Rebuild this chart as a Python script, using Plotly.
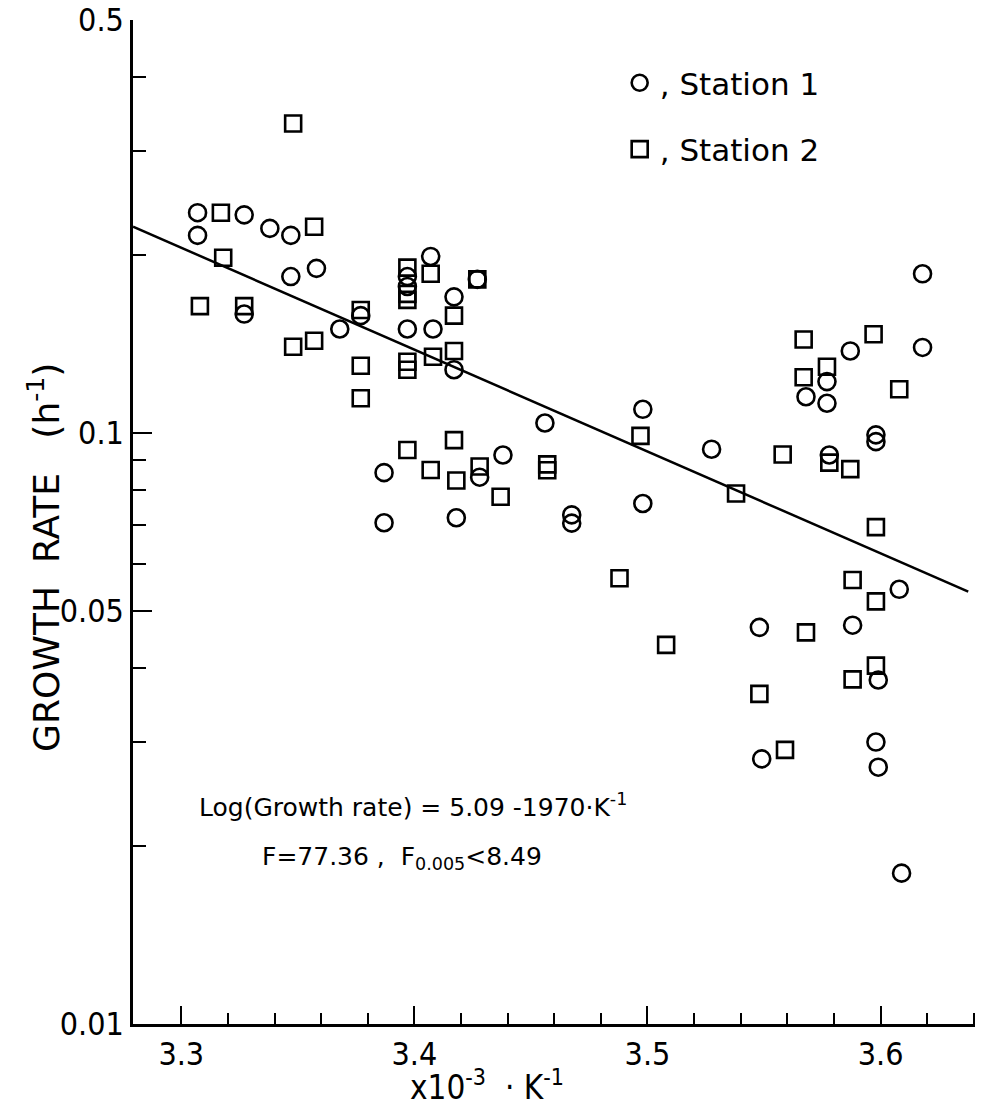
import plotly.graph_objects as go

# Station 1 (circles)
st1_x = [3.307, 3.307, 3.327, 3.338, 3.347, 3.347, 3.358, 3.407, 3.417, 3.368,
         3.397, 3.408, 3.417, 3.327, 3.377, 3.397, 3.397, 3.427,
         3.456, 3.387, 3.428, 3.438, 3.387, 3.418,
         3.618, 3.618, 3.587, 3.577, 3.568, 3.577, 3.598, 3.598, 3.578,
         3.498, 3.5275, 3.498, 3.4675, 3.4675,
         3.608, 3.548, 3.588, 3.599, 3.598, 3.599, 3.549, 3.609]
st1_y = [0.236, 0.216, 0.234, 0.222, 0.216, 0.184, 0.190, 0.199, 0.170, 0.150,
         0.150, 0.150, 0.128, 0.159, 0.158, 0.184, 0.177, 0.182,
         0.104, 0.0857, 0.0842, 0.0918, 0.0705, 0.0719,
         0.186, 0.1396, 0.1377, 0.1222, 0.1152, 0.1123, 0.0993, 0.0967, 0.0918,
         0.1097, 0.0939, 0.076, 0.0727, 0.0704,
         0.0544, 0.0469, 0.0473, 0.0382, 0.0300, 0.0272, 0.0281, 0.0180]

# Station 2 (squares)
st2_x = [3.348, 3.317, 3.357, 3.318, 3.308, 3.327, 3.397, 3.407, 3.427, 3.377,
         3.417, 3.348, 3.357, 3.377, 3.397, 3.397, 3.408, 3.417, 3.377,
         3.397, 3.397,
         3.397, 3.417, 3.407, 3.418, 3.428, 3.437, 3.457, 3.457,
         3.567, 3.597, 3.577, 3.567, 3.608, 3.497, 3.558, 3.578, 3.587, 3.538, 3.598,
         3.488, 3.508, 3.588, 3.598, 3.568, 3.598, 3.588, 3.548, 3.559]
st2_y = [0.334, 0.236, 0.2234, 0.198, 0.164, 0.164, 0.1905, 0.186, 0.182, 0.1615,
         0.158, 0.140, 0.1433, 0.130, 0.132, 0.128, 0.1346, 0.1377, 0.1145,
         0.172, 0.168,
         0.0936, 0.0973, 0.0866, 0.0831, 0.0878, 0.078, 0.0885, 0.0865,
         0.144, 0.147, 0.1295, 0.1243, 0.1186, 0.0989, 0.092, 0.0891, 0.0869, 0.079, 0.0693,
         0.0568, 0.0438, 0.0564, 0.0519, 0.0460, 0.0404, 0.0383, 0.0362, 0.0291]

# Regression line end points
fit_x = [3.2793, 3.6376]
fit_y = [0.2235, 0.0539]

x_major = [3.3, 3.4, 3.5, 3.6]
x_major_text = ["3.3", "3.4", "3.5", "3.6"]
x_minor = [3.32, 3.34, 3.36, 3.38, 3.42, 3.44, 3.46, 3.48, 3.52, 3.54, 3.56, 3.58, 3.62, 3.64]
y_major = [0.01, 0.05, 0.1, 0.5]
y_major_text = ["0.01", "0.05", "0.1", "0.5"]
y_minor = [0.02, 0.03, 0.04, 0.06, 0.07, 0.08, 0.09, 0.2, 0.3, 0.4]

COND = "DejaVu Sans Condensed, Liberation Sans Narrow, DejaVu Sans, sans-serif"
REG = "DejaVu Sans, sans-serif"
NB = "\u00a0"

fig = go.Figure()
fig.add_trace(go.Scatter(x=fit_x, y=fit_y, mode="lines",
                         line=dict(color="black", width=2.5), showlegend=False))
fig.add_trace(go.Scatter(x=st1_x, y=st1_y, mode="markers", name=", Station 1",
                         legendgroup="a",
                         marker=dict(symbol="circle-open", size=17, color="black",
                                     line=dict(width=2.6, color="black"))))
fig.add_trace(go.Scatter(x=st2_x, y=st2_y, mode="markers", name=", Station 2",
                         legendgroup="b",
                         marker=dict(symbol="square-open", size=16, color="black",
                                     line=dict(width=2.6, color="black"))))

fig.update_layout(
    width=987, height=1108,
    margin=dict(l=133, r=12, t=20, b=84, autoexpand=False),
    paper_bgcolor="white", plot_bgcolor="white",
    font=dict(family=COND, color="black", size=30),
    legend=dict(x=0.578, y=0.964, xanchor="left", yanchor="top",
                font=dict(size=31, family=REG), tracegroupgap=23,
                bgcolor="rgba(0,0,0,0)", itemsizing="trace"),
    xaxis=dict(range=[3.2793, 3.6405], showgrid=False, zeroline=False,
               automargin=False,
               showline=True, linecolor="black", linewidth=2.5,
               tickvals=x_major, ticktext=x_major_text,
               ticks="inside", ticklen=18, tickwidth=2, tickcolor="black",
               tickfont=dict(size=32),
               minor=dict(tickvals=x_minor, ticks="inside", ticklen=11,
                          tickwidth=2, tickcolor="black", showgrid=False)),
    yaxis=dict(type="log", range=[-2, -0.30103], showgrid=False, zeroline=False,
               automargin=False,
               showline=True, linecolor="black", linewidth=2.5,
               tickvals=y_major, ticktext=y_major_text,
               ticks="inside", ticklen=19, tickwidth=2, tickcolor="black",
               tickfont=dict(size=32),
               minor=dict(tickvals=y_minor, ticks="inside", ticklen=13,
                          tickwidth=2, tickcolor="black", showgrid=False)),
    annotations=[
        dict(text="Log(Growth rate) = 5.09 -1970·K<sup>-1</sup>",
             xref="paper", yref="paper", x=0.076, y=0.218,
             xanchor="left", yanchor="middle", showarrow=False,
             font=dict(size=25, family=REG)),
        dict(text="F=77.36 ,  F<sub>0.005</sub>&lt;8.49",
             xref="paper", yref="paper", x=0.151, y=0.165,
             xanchor="left", yanchor="middle", showarrow=False,
             font=dict(size=25, family=REG)),
        dict(text="x10<sup>-3</sup>" + NB * 2 + "·" + NB + "K<sup>-1</sup>",
             xref="paper", yref="paper", x=0.4204, y=-0.061,
             xanchor="center", yanchor="middle", showarrow=False,
             font=dict(size=33)),
        dict(text="GROWTH" + NB * 2 + "RATE" + NB * 3 + "(h<sup>-1</sup>)",
             xref="paper", yref="paper", x=-0.106, y=0.465,
             xanchor="center", yanchor="middle", showarrow=False,
             textangle=-90, font=dict(size=36, family=REG)),
    ],
)

fig.write_html("out.html")
